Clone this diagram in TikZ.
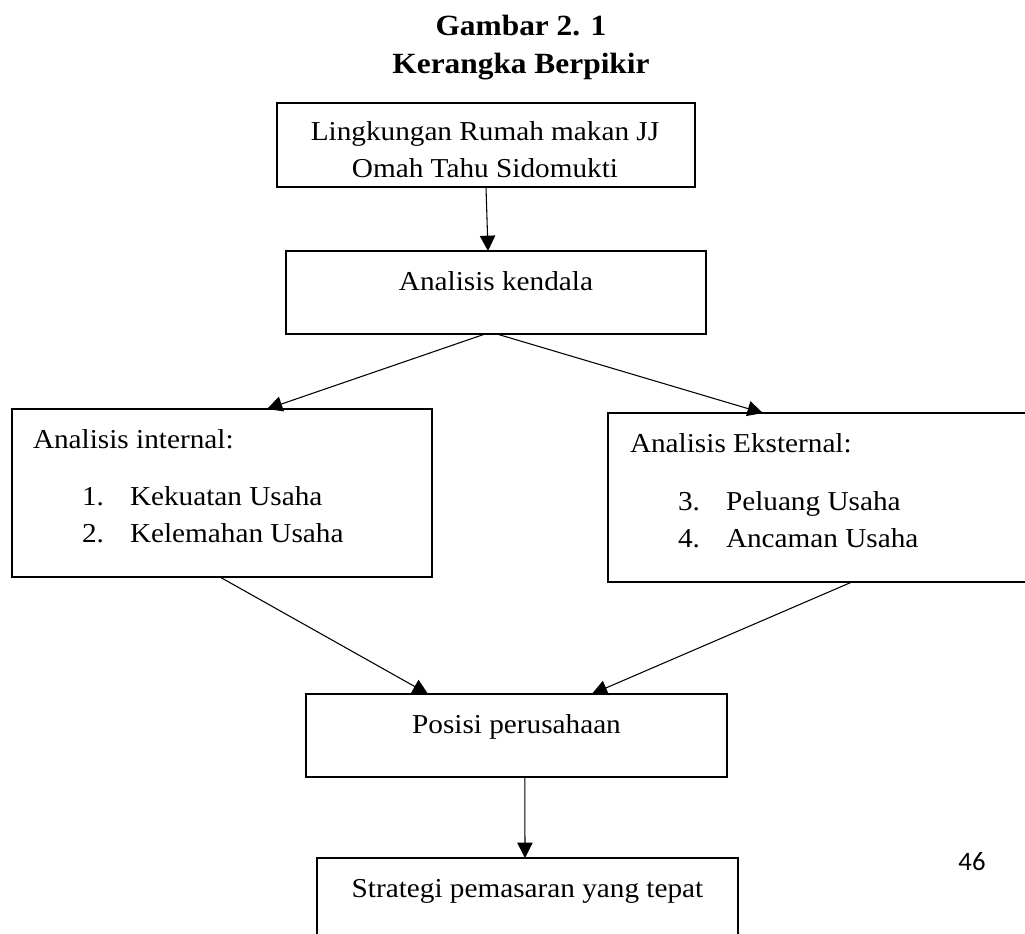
\documentclass[tikz,border=0pt]{standalone}
\usepackage{fontspec}
\setmainfont{Liberation Serif}[FakeStretch=1.07]
\newfontfamily\pagefont{Carlito}
\usetikzlibrary{arrows.meta,calc}
\begin{document}
\begin{tikzpicture}[x=0.75pt,y=-0.75pt,
  box/.style={draw,line width=2pt,rectangle,inner sep=0pt,outer sep=0pt},
  txt/.style={inner sep=0pt,outer sep=0pt,font=\fontsize{20.5}{27}\selectfont},
  ttl/.style={inner sep=0pt,outer sep=0pt,font=\fontsize{22}{28}\selectfont\bfseries},
  conn/.style={line width=0.8pt,-{Triangle[length=11.5pt,width=11.5pt]}}]
\clip (0,0) rectangle (1025,933);
% title
\node[ttl,anchor=base] (t1) at (521,35) {Gambar 2. 1};
\node[ttl,anchor=base] (t2) at (521,73) {Kerangka Berpikir};
% boxes
\node[box,minimum width=313.5pt,minimum height=63pt] (b1) at (486,145) {};
\node[box,minimum width=315pt,minimum height=62.25pt] (b2) at (496,292.5) {};
\node[box,minimum width=315pt,minimum height=126pt] (b3) at (222,493) {};
\node[box,minimum width=316.5pt,minimum height=126.75pt] (b4) at (819,497.5) {};
\node[box,minimum width=315.75pt,minimum height=62.25pt] (b5) at (516.5,735.5) {};
\node[box,minimum width=315.75pt,minimum height=69pt] (b6) at (527.5,904) {};
% texts
\node[txt,anchor=base] (l1a) at (485,140) {Lingkungan Rumah makan JJ};
\node[txt,anchor=base] (l1b) at (485,177) {Omah Tahu Sidomukti};
\node[txt,anchor=base] (l2) at (496,290) {Analisis kendala};
\node[txt,anchor=base west] (l3) at (33,448) {Analisis internal:};
\node[txt,anchor=base west] (l3n1) at (82,505) {1.};
\node[txt,anchor=base west] (l3i1) at (130,505) {Kekuatan Usaha};
\node[txt,anchor=base west] (l3n2) at (82,542) {2.};
\node[txt,anchor=base west] (l3i2) at (130,542) {Kelemahan Usaha};
\node[txt,anchor=base west] (l4) at (630,452) {Analisis Eksternal:};
\node[txt,anchor=base west] (l4n1) at (678,510) {3.};
\node[txt,anchor=base west] (l4i1) at (726,510) {Peluang Usaha};
\node[txt,anchor=base west] (l4n2) at (678,547) {4.};
\node[txt,anchor=base west] (l4i2) at (726,547) {Ancaman Usaha};
\node[txt,anchor=base] (l5) at (516.5,733) {Posisi perusahaan};
\node[txt,anchor=base] (l6) at (527.5,897) {Strategi pemasaran yang tepat};
\node[inner sep=0pt,anchor=base,font=\pagefont\fontsize{20}{24}\selectfont] (pg) at (972,870) {46};
% connectors
\draw[conn] (b1.south) -- ($(b2.north west)!0.481!(b2.north east)$);
\draw[conn] ($(b2.south west)!0.474!(b2.south east)$) -- ($(b3.north west)!0.607!(b3.north east)$);
\draw[conn] ($(b2.south west)!0.502!(b2.south east)$) -- ($(b4.north west)!0.367!(b4.north east)$);
\draw[conn] ($(b3.south west)!0.495!(b3.south east)$) -- ($(b5.north west)!0.290!(b5.north east)$);
\draw[conn] ($(b4.south west)!0.578!(b4.south east)$) -- ($(b5.north west)!0.679!(b5.north east)$);
\draw[conn] ($(b5.south west)!0.520!(b5.south east)$) -- ($(b6.north west)!0.494!(b6.north east)$);
\end{tikzpicture}
\end{document}
